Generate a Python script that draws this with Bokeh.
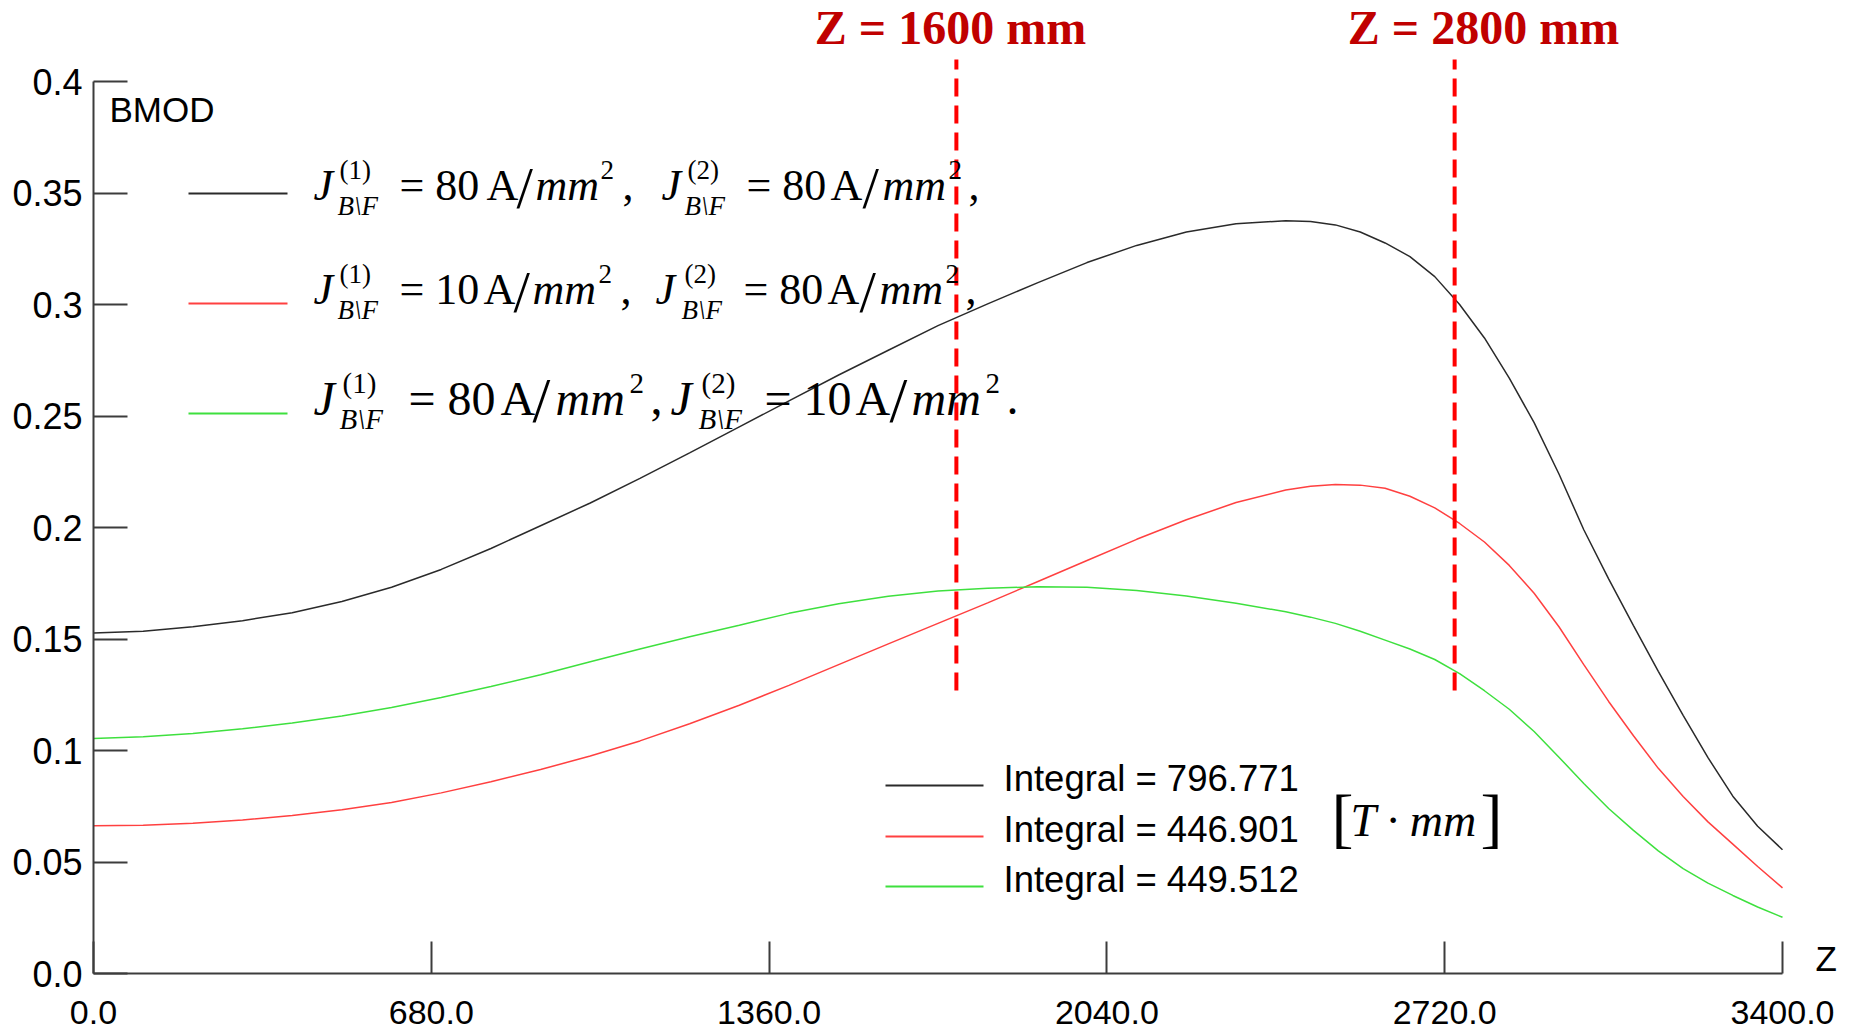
from bokeh.plotting import figure
from bokeh.models import Range1d, FixedTicker, Label, CustomJSTickFormatter
from bokeh.embed import file_html
from bokeh.resources import INLINE

# ---------------- data ----------------
z = [0, 100, 200, 300, 400, 500, 600, 700, 800, 900, 1000, 1100, 1200, 1300, 1400,
     1500, 1600, 1700, 1800, 1900, 2000, 2100, 2200, 2300, 2400, 2450, 2500, 2550,
     2600, 2650, 2700, 2750, 2800, 2850, 2900, 2950, 3000, 3050, 3100, 3150, 3200,
     3250, 3300, 3350, 3400]
b_80_80 = [0.1527, 0.1535, 0.1555, 0.1582, 0.1618, 0.1668, 0.1732, 0.1812, 0.1906,
           0.2008, 0.2110, 0.2220, 0.2335, 0.2451, 0.2568, 0.2684, 0.2795, 0.2905,
           0.3003, 0.3097, 0.3188, 0.3265, 0.3325, 0.3362, 0.3376, 0.3372, 0.3357,
           0.3325, 0.3276, 0.3215, 0.3125, 0.3000, 0.2850, 0.2670, 0.2470, 0.2240,
           0.1990, 0.1770, 0.1560, 0.1355, 0.1158, 0.0968, 0.0795, 0.0660, 0.0555]
b_10_80 = [0.0662, 0.0665, 0.0674, 0.0688, 0.0708, 0.0734, 0.0767, 0.0810, 0.0860,
           0.0915, 0.0975, 0.1043, 0.1120, 0.1203, 0.1292, 0.1385, 0.1478, 0.1570,
           0.1662, 0.1757, 0.1852, 0.1947, 0.2035, 0.2112, 0.2168, 0.2185, 0.2193,
           0.2190, 0.2176, 0.2140, 0.2088, 0.2018, 0.1935, 0.1830, 0.1705, 0.1555,
           0.1385, 0.1220, 0.1066, 0.0920, 0.0794, 0.0680, 0.0580, 0.0480, 0.0384]
b_80_10 = [0.1054, 0.1062, 0.1076, 0.1097, 0.1123, 0.1155, 0.1193, 0.1238, 0.1287,
           0.1340, 0.1398, 0.1455, 0.1510, 0.1562, 0.1615, 0.1658, 0.1692, 0.1715,
           0.1728, 0.1734, 0.1732, 0.1718, 0.1693, 0.1660, 0.1622, 0.1598, 0.1570,
           0.1535, 0.1495, 0.1455, 0.1408, 0.1345, 0.1268, 0.1185, 0.1085, 0.0970,
           0.0852, 0.0740, 0.0642, 0.0550, 0.0470, 0.0405, 0.0350, 0.0298, 0.0252]
series = [b_80_80, b_10_80, b_80_10]
series_colors = ["#2a2a2a", "#ff4040", "#3ee03e"]
integrals = [796.771, 446.901, 449.512]

x_ticks = [0, 680, 1360, 2040, 2720, 3400]
x_tick_labels = ["0.0", "680.0", "1360.0", "2040.0", "2720.0", "3400.0"]
y_ticks = [0.0, 0.05, 0.1, 0.15, 0.2, 0.25, 0.3, 0.35, 0.4]
y_tick_labels = ["0.0", "0.05", "0.1", "0.15", "0.2", "0.25", "0.3", "0.35", "0.4"]

marker_z = [1737, 2740]
marker_labels = ["Z = 1600 mm", "Z = 2800 mm"]

# ---------------- layout ----------------
W, H = 1850, 1030
LEFT, RIGHT, BOTTOM = 93, 0, 57
PX_X0, PX_X1 = 93.0, 1782.0     # px of z=0 and z=3400
PX_Y0, PX_Y4 = 973.0, 81.0      # px of B=0 and B=0.4
sx = (PX_X1 - PX_X0) / 3400.0
sy = (PX_Y0 - PX_Y4) / 0.4
frame_w = W - LEFT - RIGHT
frame_h = H - BOTTOM
BASE_FIX = 0.38   # label baseline correction (fraction of font size)


def zx(px):
    return (px - PX_X0) / sx


def by(py):
    return (PX_Y0 - py) / sy


p = figure(width=W, height=H, output_backend="svg", toolbar_location=None,
           x_range=Range1d(0, frame_w / sx), y_range=Range1d(0, frame_h / sy),
           min_border_left=LEFT, min_border_right=RIGHT, min_border_bottom=BOTTOM,
           min_border_top=0)
p.outline_line_color = None
p.xgrid.visible = False
p.ygrid.visible = False
p.background_fill_color = "white"
p.border_fill_color = "white"

AX = "#3c3c3c"
for ax in (p.xaxis[0], p.yaxis[0]):
    ax.axis_line_color = AX
    ax.axis_line_width = 2
    ax.major_tick_line_color = AX
    ax.major_tick_line_width = 2
    ax.major_tick_out = 0
    ax.minor_tick_line_color = None
    ax.major_label_text_font = "Liberation Sans"
    ax.major_label_text_color = "black"

p.xaxis.ticker = FixedTicker(ticks=x_ticks)
p.xaxis.formatter = CustomJSTickFormatter(args=dict(labels=x_tick_labels),
                                          code="return labels[index];")
p.xaxis.major_tick_in = 32
p.xaxis.bounds = (0, 3400)
p.xaxis.major_label_text_font_size = "34px"
p.xaxis.major_label_text_line_height = 0.7
p.xaxis.major_label_standoff = 27

p.yaxis.ticker = FixedTicker(ticks=y_ticks)
p.yaxis.formatter = CustomJSTickFormatter(args=dict(labels=y_tick_labels),
                                          code="return labels[index];")
p.yaxis.major_tick_in = 34
p.yaxis.bounds = (0, 0.4)
p.yaxis.major_label_text_font_size = "36px"
p.yaxis.major_label_standoff = 11

# curves
for vals, col in zip(series, series_colors):
    p.line(z, vals, line_color=col, line_width=1.5)

# dashed markers
p.segment(x0=marker_z, y0=[by(690)] * len(marker_z), x1=marker_z,
          y1=[by(59)] * len(marker_z), line_color="#ff0000", line_width=4,
          line_dash="18 9")


def add_text(px, py, txt, size, font="Liberation Serif", style="normal",
             color="black", align="left"):
    p.add_layout(Label(x=zx(px), y=by(py - BASE_FIX * size), text=txt,
                       text_font=font, text_font_size=f"{size}px",
                       text_font_style=style, text_color=color, text_align=align,
                       text_baseline="alphabetic"))


# marker titles
for cx, t in zip([950, 1483], marker_labels):
    add_text(cx, 45, t, 48, style="bold", color="#c00000", align="center")

# BMOD and Z labels
add_text(109, 122, "BMOD", 35, font="Liberation Sans")
add_text(1815, 971, "Z", 35, font="Liberation Sans")

# formula legend
sample_y = [193, 303, 413]
p.segment(x0=[zx(188)] * 3, y0=[by(v) for v in sample_y], x1=[zx(287)] * 3,
          y1=[by(v) for v in sample_y], line_color=series_colors, line_width=2)

rows = [
    (202, 44, 27, [("mi", 313, "J"), ("sup", 339, "(1)"), ("sub", 337, "B\\F"),
                   ("m", 399, "= 80"), ("m", 486, "A"), ("sl", 516, "/"),
                   ("mi", 535, "mm"), ("sup", 600, "2"), ("m", 622, ","),
                   ("mi", 661, "J"), ("sup", 687, "(2)"), ("sub", 684, "B\\F"),
                   ("m", 746, "= 80"), ("m", 830, "A"), ("sl", 862, "/"),
                   ("mi", 882, "mm"), ("sup", 948, "2"), ("m", 968, ",")]),
    (306, 44, 27, [("mi", 313, "J"), ("sup", 339, "(1)"), ("sub", 337, "B\\F"),
                   ("m", 399, "= 10"), ("m", 483, "A"), ("sl", 513, "/"),
                   ("mi", 532, "mm"), ("sup", 598, "2"), ("m", 620, ","),
                   ("mi", 655, "J"), ("sup", 684, "(2)"), ("sub", 681, "B\\F"),
                   ("m", 743, "= 80"), ("m", 827, "A"), ("sl", 859, "/"),
                   ("mi", 879, "mm"), ("sup", 945, "2"), ("m", 965, ",")]),
    (416, 48, 29, [("mi", 313, "J"), ("sup", 342, "(1)"), ("sub", 339, "B\\F"),
                   ("m", 408, "= 80"), ("m", 500, "A"), ("sl", 532, "/"),
                   ("mi", 555, "mm"), ("sup", 629, "2"), ("m", 650, ","),
                   ("mi", 670, "J"), ("sup", 701, "(2)"), ("sub", 698, "B\\F"),
                   ("m", 764, "= 10"), ("m", 855, "A"), ("sl", 889, "/"),
                   ("mi", 911, "mm"), ("sup", 985, "2"), ("m", 1006, ".")]),
]
for base, fmain, fsmall, segs in rows:
    for kind, px, txt in segs:
        if kind == "mi":
            add_text(px, base, txt, fmain, style="italic")
        elif kind == "m":
            add_text(px, base, txt, fmain)
        elif kind == "sl":
            add_text(px, base + 8, txt, int(fmain * 1.35))
        elif kind == "sup":
            add_text(px, base - 22, txt, fsmall)
        else:
            add_text(px, base + 14, txt, fsmall, style="italic")

# integral legend
int_y = [785, 836, 886]
p.segment(x0=[zx(885)] * 3, y0=[by(v) for v in int_y], x1=[zx(983)] * 3,
          y1=[by(v) for v in int_y], line_color=series_colors, line_width=2)
for yy, v in zip(int_y, integrals):
    add_text(1003, yy + 7, f"Integral = {v:.3f}", 36.5, font="Liberation Sans")

add_text(1331, 842, "[", 66)
add_text(1350, 837, "T \u00b7 mm", 46, style="italic")
add_text(1480, 842, "]", 66)

open("out.html", "w").write(file_html(p, INLINE))
